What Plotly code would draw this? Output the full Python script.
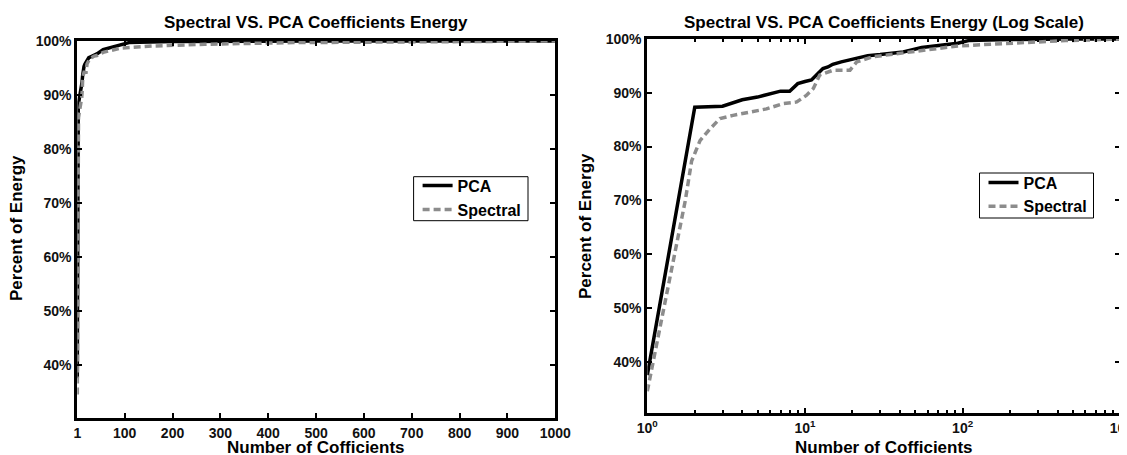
import plotly.graph_objects as go

# ---- data ----
pca_n = [1, 2, 3, 4, 5, 6, 7, 8, 9, 10, 11, 12, 13, 14, 15, 17, 20, 25, 30, 35, 42, 55, 71, 93, 109, 200, 500, 1000]
pca_pct = [37.5, 87.3, 87.5, 88.7, 89.2, 89.8, 90.3, 90.3, 91.7, 92.1, 92.4, 93.5, 94.5, 94.8, 95.3, 95.75,
           96.25, 96.9, 97.1, 97.3, 97.6, 98.4, 98.75, 99.2, 99.7, 99.9, 100.0, 100.0]

spec_n = [1, 1.74, 1.91, 2.16, 2.5, 2.89, 3.5, 4.48, 5.7, 7.3, 8.87, 10.2, 11.3, 12.4, 15.1, 19.3, 21.3,
          27, 36.3, 42, 55, 93, 158, 267, 452, 1000]
spec_pct = [34.5, 69.9, 77.3, 81.1, 83.3, 85.2, 85.8, 86.4, 87.0, 88.0, 88.3, 89.5, 90.8, 93.3, 94.2, 94.2,
            95.75, 96.7, 97.2, 97.3, 97.9, 98.7, 99.06, 99.4, 99.7, 100.0]

lin_ticks = [1, 100, 200, 300, 400, 500, 600, 700, 800, 900, 1000]
lin_ticktext = ["1", "100", "200", "300", "400", "500", "600", "700", "800", "900", "1000"]
log_ticks = [1, 10, 100, 1000]
log_ticktext = ["10<sup>0</sup>", "10<sup>1</sup>", "10<sup>2</sup>", "10<sup>3</sup>"]
log_minor = [m * d for d in (1, 10, 100) for m in range(2, 10)]
y_ticks = [40, 50, 60, 70, 80, 90, 100]
y_ticktext = ["40%", "50%", "60%", "70%", "80%", "90%", "100%"]

title_left = "Spectral VS. PCA Coefficients Energy"
title_right = "Spectral VS. PCA Coefficients Energy (Log Scale)"
x_title = "Number of Cofficients"
y_title = "Percent of Energy"

W, H = 1127, 455
OFF = 8  # page body margin of the saved html


def px(x):
    return (x - OFF) / W


def py(y):
    return (H - (y - OFF)) / H


FONT = "Liberation Sans, Arial, Helvetica, sans-serif"
PCA_COLOR = "black"
SPEC_COLOR = "#8c8c8c"
LW = 3.5
DASH = "7px,4px"

fig = go.Figure()

fig.add_trace(go.Scatter(x=pca_n, y=pca_pct, mode="lines", name="PCA",
                         line=dict(color=PCA_COLOR, width=LW), xaxis="x", yaxis="y", legend="legend"))
fig.add_trace(go.Scatter(x=spec_n, y=spec_pct, mode="lines", name="Spectral",
                         line=dict(color=SPEC_COLOR, width=LW, dash=DASH), xaxis="x", yaxis="y", legend="legend"))
fig.add_trace(go.Scatter(x=pca_n, y=pca_pct, mode="lines", name="PCA",
                         line=dict(color=PCA_COLOR, width=LW), xaxis="x2", yaxis="y2", legend="legend2"))
fig.add_trace(go.Scatter(x=spec_n, y=spec_pct, mode="lines", name="Spectral",
                         line=dict(color=SPEC_COLOR, width=LW, dash=DASH), xaxis="x2", yaxis="y2", legend="legend2"))

tickfont = dict(family=FONT, size=14, color="#111", weight="bold")
common = dict(showline=True, linewidth=3, linecolor="black", mirror="ticks", ticks="inside",
              ticklen=5, tickwidth=2, tickcolor="black", showgrid=False, zeroline=False,
              tickfont=tickfont, automargin=False)

L0, L1 = px(77.3), px(555.3)
R0, R1 = px(647.3), px(1120.3)
LB, LT = py(418.3), py(41)
RB, RT = py(413.3), py(39)

legfont = dict(family=FONT, size=16, color="black", weight="bold")

fig.update_layout(
    width=W, height=H,
    margin=dict(l=0, r=0, t=0, b=0, autoexpand=False),
    paper_bgcolor="white", plot_bgcolor="white",
    xaxis=dict(domain=[L0, L1], range=[1, 1000], tickmode="array", tickvals=lin_ticks,
               ticktext=lin_ticktext, anchor="y", ticklabeloverflow="allow", **common),
    yaxis=dict(domain=[LB, LT], range=[30.1, 100], tickmode="array", tickvals=y_ticks,
               ticktext=y_ticktext, anchor="x", **common),
    xaxis2=dict(domain=[R0, R1], type="log", range=[0, 3], tickmode="array", tickvals=log_ticks,
                ticktext=log_ticktext, anchor="y2", ticklabeloverflow="allow",
                minor=dict(ticks="inside", ticklen=3, tickwidth=2, tickcolor="black",
                           tickmode="array", tickvals=log_minor, showgrid=False),
                **common),
    yaxis2=dict(domain=[RB, RT], range=[30.4, 100], tickmode="array", tickvals=y_ticks,
                ticktext=y_ticktext, anchor="x2", **common),
    legend=dict(x=px(413.6 + 4), y=py(168.7), xanchor="left", yanchor="top",
                bgcolor="rgba(0,0,0,0)", borderwidth=0, font=legfont),
    legend2=dict(x=px(979.5 + 4), y=py(165.5), xanchor="left", yanchor="top",
                 bgcolor="rgba(0,0,0,0)", borderwidth=0, font=legfont),
    showlegend=True,
)

# legend frames
fig.add_shape(type="rect", xref="paper", yref="paper", x0=px(413.6), x1=px(528), y0=py(220.7), y1=py(176.7),
              line=dict(color="black", width=1), fillcolor="white", layer="above")
fig.add_shape(type="rect", xref="paper", yref="paper", x0=px(979.5), x1=px(1093.5), y0=py(218), y1=py(173),
              line=dict(color="black", width=1), fillcolor="white", layer="above")

tfont = dict(family=FONT, size=17, color="black", weight="bold")
afont = dict(family=FONT, size=17, color="black", weight="bold")
ann = [
    dict(text=title_left, x=(L0 + L1) / 2, y=py(23), font=tfont),
    dict(text=title_right, x=(R0 + R1) / 2, y=py(23), font=tfont),
    dict(text=x_title, x=(L0 + L1) / 2, y=py(447), font=afont),
    dict(text=x_title, x=(R0 + R1) / 2, y=py(447), font=afont),
    dict(text=y_title, x=px(17), y=py(228), font=afont, textangle=-90),
    dict(text=y_title, x=px(586), y=py(226), font=afont, textangle=-90),
]
for a in ann:
    a.update(xref="paper", yref="paper", showarrow=False, xanchor="center", yanchor="middle")
fig.update_layout(annotations=ann)

fig.write_html("out.html")
